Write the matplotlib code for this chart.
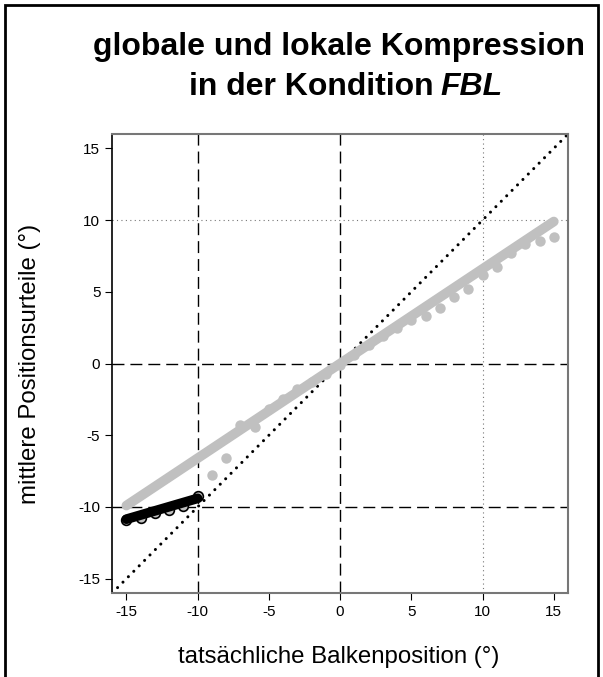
import matplotlib
matplotlib.use('Agg')
import matplotlib.pyplot as plt
from matplotlib.patches import Rectangle
import numpy as np

plt.rcParams['font.family'] = ['Liberation Sans', 'DejaVu Sans']
plt.rcParams['axes.unicode_minus'] = False

# mittlere Urteile, global (grau) ueber alle Positionen
pos_global = np.arange(-9, 16)
urteil_global = [-7.8, -6.6, -4.3, -4.4, -3.2, -2.5, -1.8, -1.3, -0.7, -0.1,
                 0.6, 1.3, 1.9, 2.45, 3.06, 3.3, 3.9, 4.65, 5.23, 6.2,
                 6.7, 7.73, 8.33, 8.56, 8.84]
# lokaler Bereich am linken Rand
pos_lokal = np.arange(-15, -9)
urteil_lokal = [-10.9, -10.8, -10.4, -10.2, -9.95, -9.2]

# Regressionsgeraden (Endpunkte)
reg_global_x = [-15, 15]
reg_global_y = [-9.9, 9.9]
reg_lokal_x = [-15, -10]
reg_lokal_y = [-10.85, -9.4]

ticks = [-15, -10, -5, 0, 5, 10, 15]
grau = '#c0c0c0'

fig = plt.figure(figsize=(6.03, 6.77), dpi=100)
ax = fig.add_axes([0.186, 0.124, 0.756, 0.678])

# Hilfslinien
dash = (0, (8.6, 4.3))
ax.axhline(0, color='black', lw=1, linestyle=dash)
ax.axhline(-10, color='black', lw=1, linestyle=dash)
ax.axvline(0, color='black', lw=1, linestyle=dash)
ax.axvline(-10, color='black', lw=1, linestyle=dash)
ax.axhline(10, color='#777777', lw=0.8, linestyle=(0, (1, 3)))
ax.axvline(10, color='#777777', lw=0.8, linestyle=(0, (1, 3)))

# Winkelhalbierende
ax.plot([-16, 16], [-16, 16], color='black', lw=2.2,
        linestyle=(0, (0.01, 2.5)), dash_capstyle='round')

# globale Kompression
ax.plot(pos_global, urteil_global, 'o', color=grau, ms=7.5, mew=0)
ax.plot(reg_global_x, reg_global_y, color=grau, lw=7, solid_capstyle='round')

# lokale Kompression
ax.plot(pos_lokal, urteil_lokal, 'o', mfc=grau, mec='black', ms=7, mew=1.2)
ax.plot(reg_lokal_x, reg_lokal_y, color='black', lw=7, solid_capstyle='round')

ax.set_xlim(-16, 16)
ax.set_ylim(-16, 16)
ax.set_xticks(ticks)
ax.set_yticks(ticks)
ax.tick_params(direction='out', length=5, labelsize=11, colors='black')
for s in ['top', 'right', 'bottom']:
    ax.spines[s].set_color('#777777')
    ax.spines[s].set_linewidth(1.5)
ax.spines['left'].set_color('black')
ax.spines['left'].set_linewidth(1.2)

fig.text(0.562, 1 - 657 / 677, 'tatsächliche Balkenposition (°)', fontsize=17.3,
         ha='center', va='center')
fig.text(30 / 603, 1 - 364 / 677, 'mittlere Positionsurteile (°)', fontsize=17.3,
         ha='center', va='center', rotation=90)

# Titel
fig.text(339 / 603, 1 - 47 / 677, 'globale und lokale Kompression', fontsize=23,
         fontweight='bold', ha='center', va='center')
t1 = fig.text(189 / 603, 1 - 87 / 677, 'in der Kondition', fontsize=23,
              fontweight='bold', ha='left', va='center')
fig.canvas.draw()
bb = t1.get_window_extent()
fig.text((bb.x1 + 7) / 603, 1 - 87 / 677, 'FBL', fontsize=23, fontweight='bold',
         fontstyle='italic', ha='left', va='center')

# Rahmen
fig.patches.append(Rectangle((0.008, -0.02), 0.984, 1.012, transform=fig.transFigure,
                             fill=False, edgecolor='black', lw=2))

fig.savefig('out.png', dpi=100)
